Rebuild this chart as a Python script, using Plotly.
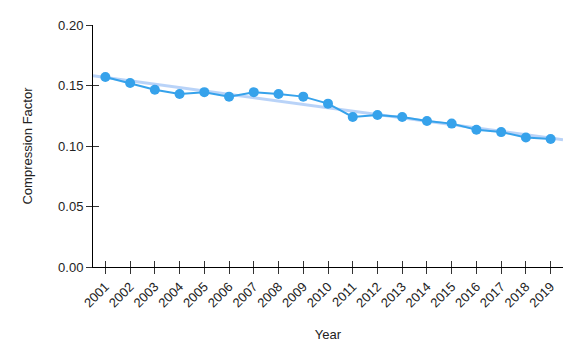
import plotly.graph_objects as go

years = list(range(2001, 2020))
compression = [0.157, 0.152, 0.1465, 0.143, 0.1445, 0.1408, 0.1445, 0.143, 0.1408,
               0.135, 0.124, 0.1256, 0.124, 0.1207, 0.1185, 0.1135, 0.1115, 0.107, 0.1058]
trend_years = [2000.5, 2019.5]
trend_values = [0.158, 0.1052]
y_ticks = [0.0, 0.05, 0.10, 0.15, 0.20]

FONT = "Liberation Sans, Arial, sans-serif"

fig = go.Figure()
fig.add_trace(go.Scatter(
    x=trend_years, y=trend_values,
    mode="lines",
    line={"color": "rgba(54, 130, 235, 0.35)", "width": 3},
    hoverinfo="skip",
    showlegend=False,
))
fig.add_trace(go.Scatter(
    x=years, y=compression,
    mode="lines+markers",
    line={"color": "#36a2eb", "width": 2},
    marker={"color": "#36a2eb", "size": 10},
    showlegend=False,
))

# invisible overlay traces so the crossing tick marks have axes to live on
fig.add_trace(go.Scatter(x=years, y=compression, xaxis="x2", yaxis="y2",
                         mode="markers", marker={"opacity": 0}, hoverinfo="skip",
                         showlegend=False))

x_range = [2000.5, 2019.5]
y_range = [0, 0.2]

# page body has an 8px margin, so the figure is sized/offset to compensate
fig.update_layout(
    width=573, height=352,
    margin={"l": 85, "r": 18, "t": 17, "b": 93},
    plot_bgcolor="white",
    paper_bgcolor="white",
    font={"family": FONT, "size": 13, "color": "#222"},
    xaxis={
        "range": x_range,
        "tickvals": years,
        "ticktext": [str(y) for y in years],
        "tickangle": -45,
        "tickfont": {"size": 13},
        "ticks": "outside", "ticklen": 6, "tickcolor": "#333",
        "showline": True, "linecolor": "black", "linewidth": 1,
        "showgrid": False, "zeroline": False, "automargin": False,
        "title": {"text": "Year", "font": {"size": 13}, "standoff": 20},
    },
    yaxis={
        "range": y_range,
        "tickvals": y_ticks,
        "tickformat": ".2f",
        "tickfont": {"size": 13},
        "ticks": "outside", "ticklen": 6, "tickcolor": "#333",
        "showline": True, "linecolor": "black", "linewidth": 1,
        "showgrid": False, "zeroline": False, "automargin": False,
        "title": {"text": "Compression Factor", "font": {"size": 13}, "standoff": 22},
    },
    xaxis2={
        "overlaying": "x", "range": x_range, "tickvals": years,
        "ticks": "inside", "ticklen": 6, "tickcolor": "#333",
        "showticklabels": False, "showgrid": False, "zeroline": False,
        "side": "bottom", "automargin": False,
    },
    yaxis2={
        "overlaying": "y", "range": y_range, "tickvals": y_ticks,
        "ticks": "inside", "ticklen": 6, "tickcolor": "#333",
        "showticklabels": False, "showgrid": False, "zeroline": False,
        "side": "left", "automargin": False,
    },
)

fig.write_html("out.html")
